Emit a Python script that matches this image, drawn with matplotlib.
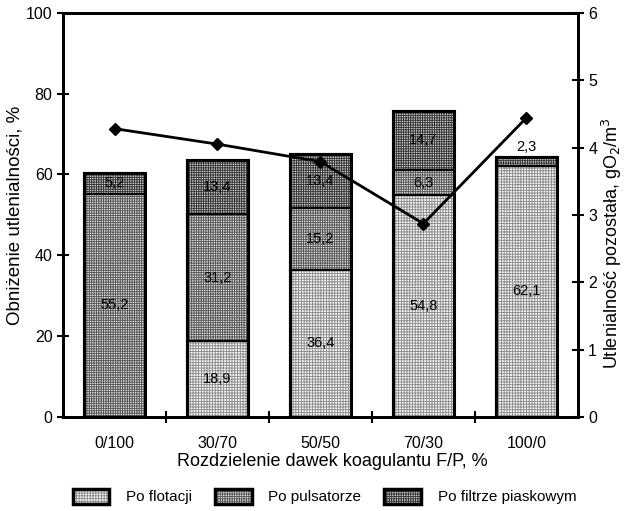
import matplotlib.pyplot as plt
from matplotlib.patches import Patch
from matplotlib.legend_handler import HandlerTuple
import numpy as np

plt.rcParams['font.family'] = ['Liberation Sans', 'DejaVu Sans']
plt.rcParams['hatch.linewidth'] = 0.6

categories = ["0/100", "30/70", "50/50", "70/30", "100/0"]
po_flotacji = [0.0, 18.9, 36.4, 54.8, 62.1]
po_pulsatorze = [55.2, 31.2, 15.2, 6.3, 0.0]
po_filtrze = [5.2, 13.4, 13.4, 14.7, 2.3]
utlenialnosc_pozostala = [4.28, 4.05, 3.79, 2.87, 4.44]

series_names = ["Po flotacji", "Po pulsatorze", "Po filtrze piaskowym"]
styles = [
    dict(facecolor="#f2f2f2", hatch_color="#8a8a8a", hatch="++++++"),
    dict(facecolor="#d8d8d8", hatch_color="#555555", hatch="+++++++"),
    dict(facecolor="#c4c4c4", hatch_color="#333333", hatch="+++++++"),
]

fig = plt.figure(figsize=(6.24, 5.11), dpi=100)
ax = fig.add_axes([0.101, 0.184, 0.825, 0.791])
x = np.arange(len(categories))
w = 0.59

bottom = np.zeros(len(categories))
for vals, st in zip([po_flotacji, po_pulsatorze, po_filtrze], styles):
    vals = np.array(vals)
    ax.bar(x, vals, w, bottom=bottom, color=st["facecolor"],
           edgecolor=st["hatch_color"], hatch=st["hatch"], linewidth=0, zorder=2)
    ax.bar(x, vals, w, bottom=bottom, fill=False, edgecolor="black",
           linewidth=1.5, zorder=3)
    for xi, b, v in zip(x, bottom, vals):
        if v <= 0:
            continue
        txt = f"{v:.1f}".replace(".", ",")
        if v < 4:
            ax.text(xi, b + v + 0.6, txt, ha="center", va="bottom", fontsize=10.5, zorder=5)
        else:
            ax.text(xi, b + v / 2, txt, ha="center", va="center", fontsize=10.5, zorder=5)
    bottom = bottom + vals

# outer bar outline thicker
ax.bar(x, bottom, w, fill=False, edgecolor="black", linewidth=2.2, zorder=4)

ax.set_xlim(-0.5, len(categories) - 0.5)
ax.set_ylim(0, 100)
ax.set_yticks(range(0, 101, 20))
ax.set_xticks(x)
ax.set_xticklabels(categories)
ax.set_xticks(x[:-1] + 0.5, minor=True)
ax.tick_params(axis="x", which="major", length=0, pad=14, labelsize=11.5)
ax.tick_params(axis="x", which="minor", direction="inout", length=8, width=1.5)
ax.tick_params(axis="y", direction="inout", length=8, width=1.5, labelsize=11.5)
ax.set_xlabel("Rozdzielenie dawek koagulantu F/P, %", fontsize=13, labelpad=1)
ax.xaxis.set_label_coords(0.523, -0.088)
ax.set_ylabel("Obniżenie utlenialności, %", fontsize=13.5, labelpad=2)
for s in ax.spines.values():
    s.set_linewidth(2)

ax2 = ax.twinx()
ax2.plot(x, utlenialnosc_pozostala, color="black", linewidth=2, marker="D",
         markersize=6, zorder=6)
ax2.set_ylim(0, 6)
ax2.set_yticks(range(0, 7))
ax2.tick_params(axis="y", direction="inout", length=8, width=1.5, labelsize=11.5)
ax2.set_ylabel("Utlenialność pozostała, gO$_2$/m$^3$", fontsize=13, labelpad=1)
ax2.yaxis.set_label_coords(1.043, 0.43)
for s in ax2.spines.values():
    s.set_linewidth(2)

handles = []
for st in styles:
    p1 = Patch(facecolor=st["facecolor"], edgecolor=st["hatch_color"], hatch=st["hatch"], linewidth=0)
    p2 = Patch(fill=False, edgecolor="black", linewidth=2.5)
    handles.append((p1, p2))
fig.legend(handles, series_names, handler_map={tuple: HandlerTuple(ndivide=1)},
           loc="lower center", bbox_to_anchor=(0.52, -0.014), ncol=3, frameon=False,
           fontsize=11, handlelength=2.4, handleheight=1.1, handletextpad=1.1,
           columnspacing=1.5)

fig.savefig("out.png", dpi=100)
